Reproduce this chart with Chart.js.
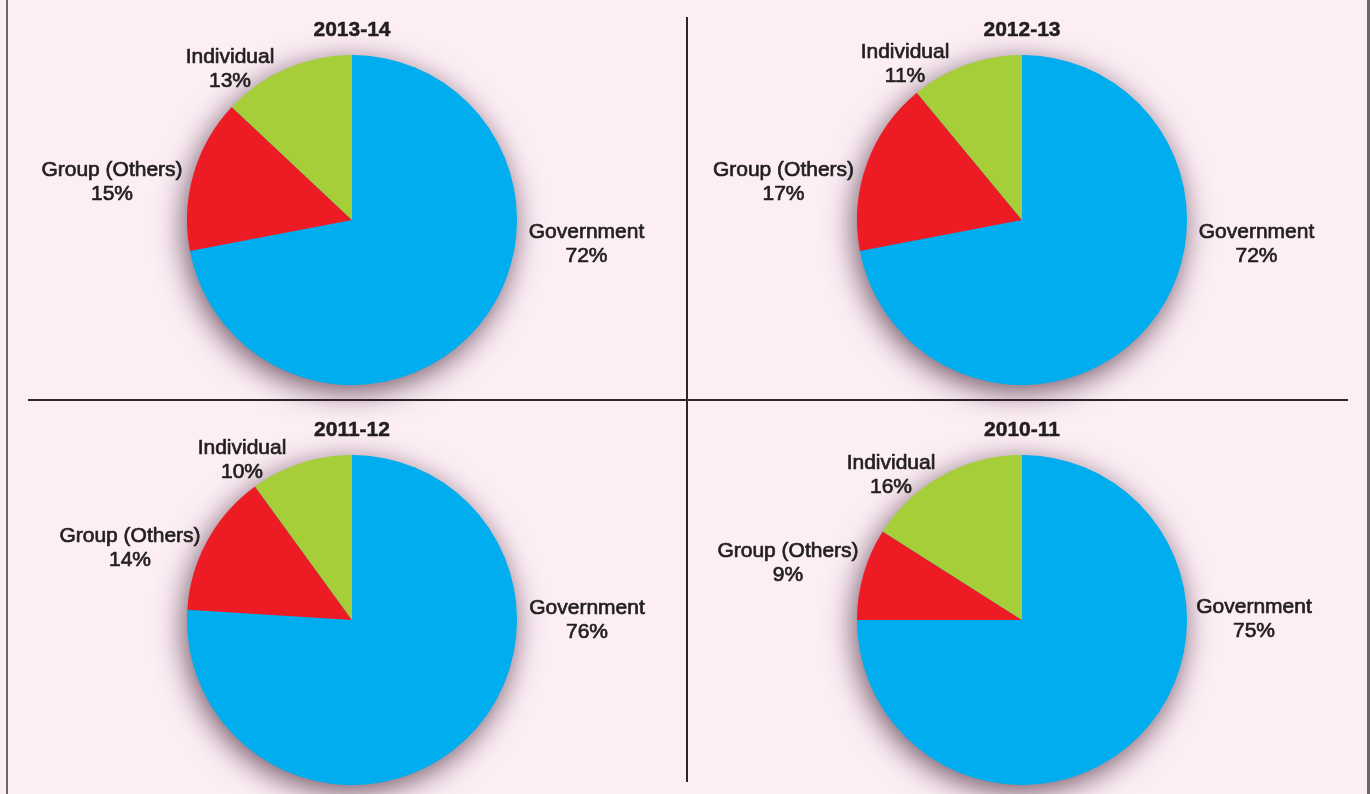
<!DOCTYPE html>
<html>
<head>
<meta charset="utf-8">
<script src="https://cdn.jsdelivr.net/npm/chart.js@4"></script>
<style>
  html, body { margin: 0; padding: 0; }
  body { width: 1370px; height: 794px; background: #fdeef5; position: relative; overflow: hidden; }
  .ln { position: absolute; background: #2b2628; }
  canvas { position: absolute; left: 0; top: 0; }
</style>
</head>
<body>
<div class="ln" style="left:6px;top:0;width:2px;height:794px;background:#6b6769"></div>
<div class="ln" style="left:1367px;top:0;width:3px;height:794px;background:#6b6769"></div>
<div class="ln" style="left:28px;top:399px;width:1320px;height:2px;"></div>
<div class="ln" style="left:686px;top:17px;width:2px;height:765px;"></div>
<canvas id="c0" width="1370" height="794"></canvas>
<canvas id="c1" width="1370" height="794"></canvas>
<canvas id="c2" width="1370" height="794"></canvas>
<canvas id="c3" width="1370" height="794"></canvas>
<script>
// ---- data ----
const years = ['2013-14', '2012-13', '2011-12', '2010-11'];
const categories = ['Government', 'Group (Others)', 'Individual'];
const government = [72, 72, 76, 75];
const groupOthers = [15, 17, 14, 9];
const individual = [13, 11, 10, 16];

// ---- layout (not data) ----
const W = 1370, H = 794, R = 165;
const centers = [[352, 220], [1022, 220], [352, 620], [1022, 620]];
// label block centre offsets from pie centre, in px at radius 165 (order: Government, Group, Individual)
const labelOffsets = [
  [[234.5, 24], [-240, -37.5], [-122, -151]],
  [[234.5, 24], [-238.5, -38], [-117, -156]],
  [[235, 0], [-222, -71.5], [-110, -160]],
  [[232, -0.5], [-234, -56.5], [-131, -145]]
];
const colors = ['#00aeef', '#ed1c24', '#a6ce39'];
const textColor = '#231f20';
const fontFamily = '"Liberation Sans", Arial, Helvetica, sans-serif';

const shadowPlugin = {
  id: 'pieShadow',
  beforeDatasetsDraw(chart) {
    const arc = chart.getDatasetMeta(0).data[0];
    if (!arc) return;
    const ctx = chart.ctx;
    ctx.save();
    ctx.shadowColor = 'rgba(60,30,50,0.75)';
    ctx.shadowBlur = 30;
    ctx.shadowOffsetX = -3;
    ctx.shadowOffsetY = 7;
    ctx.fillStyle = colors[0];
    ctx.beginPath();
    ctx.arc(arc.x, arc.y, arc.outerRadius - 0.5, 0, Math.PI * 2);
    ctx.fill();
    ctx.restore();
  }
};

function boldText(ctx, s, x, y, w) {
  ctx.fillText(s, x, y);
  ctx.lineWidth = w;
  ctx.strokeText(s, x, y);
}

const labelPlugin = {
  id: 'pieLabels',
  afterDraw(chart) {
    const idx = chart.options.plugins.pieLabels.index;
    const meta = chart.getDatasetMeta(0);
    const arc = meta.data[0];
    const ctx = chart.ctx;
    const cx = arc.x, cy = arc.y, r = arc.outerRadius;
    const k = r / 165;
    ctx.save();
    ctx.fillStyle = textColor;
    ctx.strokeStyle = textColor;
    ctx.lineJoin = 'round';
    ctx.textAlign = 'center';
    ctx.textBaseline = 'middle';
    // title
    ctx.font = 'bold 21px ' + fontFamily;
    boldText(ctx, years[idx], cx, cy - 190 * k, 0.5);
    // slice labels
    ctx.font = '21px ' + fontFamily;
    const vals = chart.data.datasets[0].data;
    chart.data.labels.forEach((lab, i) => {
      const off = labelOffsets[idx][i];
      const x = cx + off[0] * k, y = cy + off[1] * k;
      boldText(ctx, lab, x, y - 12, 0.7);
      boldText(ctx, vals[i] + '%', x, y + 12, 0.7);
    });
    ctx.restore();
  }
};

years.forEach((yr, i) => {
  const [cx, cy] = centers[i];
  new Chart(document.getElementById('c' + i), {
    type: 'pie',
    data: {
      labels: categories,
      datasets: [{
        data: [government[i], groupOthers[i], individual[i]],
        backgroundColor: colors,
        borderWidth: 0,
        hoverOffset: 0
      }]
    },
    options: {
      responsive: false,
      animation: false,
      rotation: 0,
      layout: { padding: { left: cx - R, right: W - cx - R, top: cy - R, bottom: H - cy - R } },
      plugins: {
        legend: { display: false },
        tooltip: { enabled: false },
        title: { display: false },
        pieLabels: { index: i }
      },
      events: []
    },
    plugins: [shadowPlugin, labelPlugin]
  });
});
</script>
</body>
</html>
